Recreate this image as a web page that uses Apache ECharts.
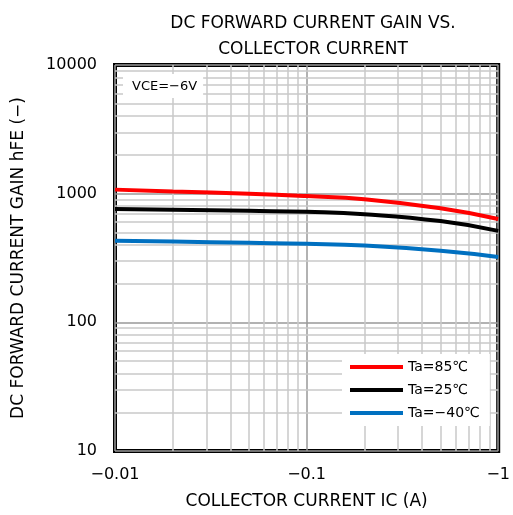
<!DOCTYPE html>
<html><head><meta charset="utf-8">
<script src="https://cdn.jsdelivr.net/npm/echarts@6/dist/echarts.min.js"></script>
<style>html,body{margin:0;padding:0;background:#fff}#c{width:513px;height:515px}</style>
</head><body><div id="c"></div>
<script>
const currentIC = [0.01, 0.02, 0.05, 0.1, 0.2, 0.5, 1];
const gain85 = [1075, 1040, 1000, 958, 905, 770, 636];
const gain25 = [760, 750, 735, 722, 692, 612, 514];
const gainM40 = [430, 424, 415, 408, 395, 360, 322];
const seriesNames = ['Ta=85℃', 'Ta=25℃', 'Ta=−40℃'];
const seriesColors = ['#ff0000', '#000000', '#0070c0'];
const xTickLabels = {0.01: '−0.01', 0.1: '−0.1', 1: '−1'};
const yTickLabels = {10: '10', 100: '100', 1000: '1000', 10000: '10000'};
const xMinorGrid = [0.02,0.03,0.04,0.05,0.06,0.07,0.08,0.09,0.2,0.3,0.4,0.5,0.6,0.7,0.8,0.9];
const yMinorGrid = [20,30,40,50,60,70,80,90,200,300,400,500,600,700,800,900,2000,3000,4000,5000,6000,7000,8000,9000];

const FONT = '"DejaVu Sans", "Noto Sans CJK JP", sans-serif';
const chart = echarts.init(document.getElementById('c'), null, {renderer: 'canvas'});

function zip(xs, ys) { return xs.map((x, i) => [x, ys[i]]); }
const gridLineData = [];
xMinorGrid.forEach(v => gridLineData.push({xAxis: v}));
yMinorGrid.forEach(v => gridLineData.push({yAxis: v}));

const curves = [gain85, gain25, gainM40].map((d, i) => ({
  name: seriesNames[i], type: 'line', data: zip(currentIC, d), smooth: 0.5,
  showSymbol: false, symbol: 'none', z: 3,
  lineStyle: {color: seriesColors[i], width: 4}, itemStyle: {color: seriesColors[i]}
}));

chart.setOption({
  animation: false,
  backgroundColor: '#fff',
  title: [{
    text: 'DC FORWARD CURRENT GAIN VS.\nCOLLECTOR CURRENT', left: 308, top: 6, textAlign: 'center',
    textStyle: {fontFamily: FONT, fontSize: 17, fontWeight: 'normal', color: '#000', lineHeight: 26}
  }, {
    text: 'VCE=−6V', left: 123, top: 74, backgroundColor: '#fff', padding: [6, 6, 5, 9],
    textStyle: {fontFamily: FONT, fontSize: 13, fontWeight: 'normal', color: '#000'}
  }],
  legend: {
    data: seriesNames, orient: 'vertical', left: 342, top: 354, itemWidth: 53, itemHeight: 4,
    itemGap: 7, padding: [5, 10, 5, 8], backgroundColor: '#fff', icon: 'rect', z: 8,
    textStyle: {fontFamily: FONT, fontSize: 14, color: '#000', lineHeight: 16, padding: [0, 0, 0, 0]}
  },
  grid: {left: 115, top: 65, right: 12, bottom: 62, show: true, borderColor: '#000', borderWidth: 4, containLabel: false},
  xAxis: {
    type: 'log', logBase: 10, min: 0.01, max: 1,
    name: 'COLLECTOR CURRENT IC (A)', nameLocation: 'middle', nameGap: 42,
    nameTextStyle: {fontFamily: FONT, fontSize: 17, color: '#000'},
    axisLine: {show: false}, axisTick: {show: false},
    axisLabel: {fontFamily: FONT, fontSize: 16, color: '#000', margin: 16, formatter: v => xTickLabels[v] ?? ''},
    splitLine: {show: true, lineStyle: {color: '#999', width: 1.5}}
  },
  yAxis: {
    type: 'log', logBase: 10, min: 10, max: 10000,
    name: 'DC FORWARD CURRENT GAIN hFE (−)', nameLocation: 'middle', nameGap: 88,
    nameTextStyle: {fontFamily: FONT, fontSize: 17, color: '#000'},
    axisLine: {show: false}, axisTick: {show: false},
    axisLabel: {fontFamily: FONT, fontSize: 16, color: '#000', margin: 18, formatter: v => yTickLabels[v] ?? ''},
    splitLine: {show: true, lineStyle: {color: '#999', width: 1.5}}
  },
  series: [{
    type: 'line', data: [], silent: true, z: 1,
    markLine: {silent: true, z: 1, symbol: 'none', label: {show: false}, animation: false,
      lineStyle: {color: '#c8c8c8', width: 1.5, type: 'solid'}, data: gridLineData}
  }].concat(curves)
});
</script></body></html>
